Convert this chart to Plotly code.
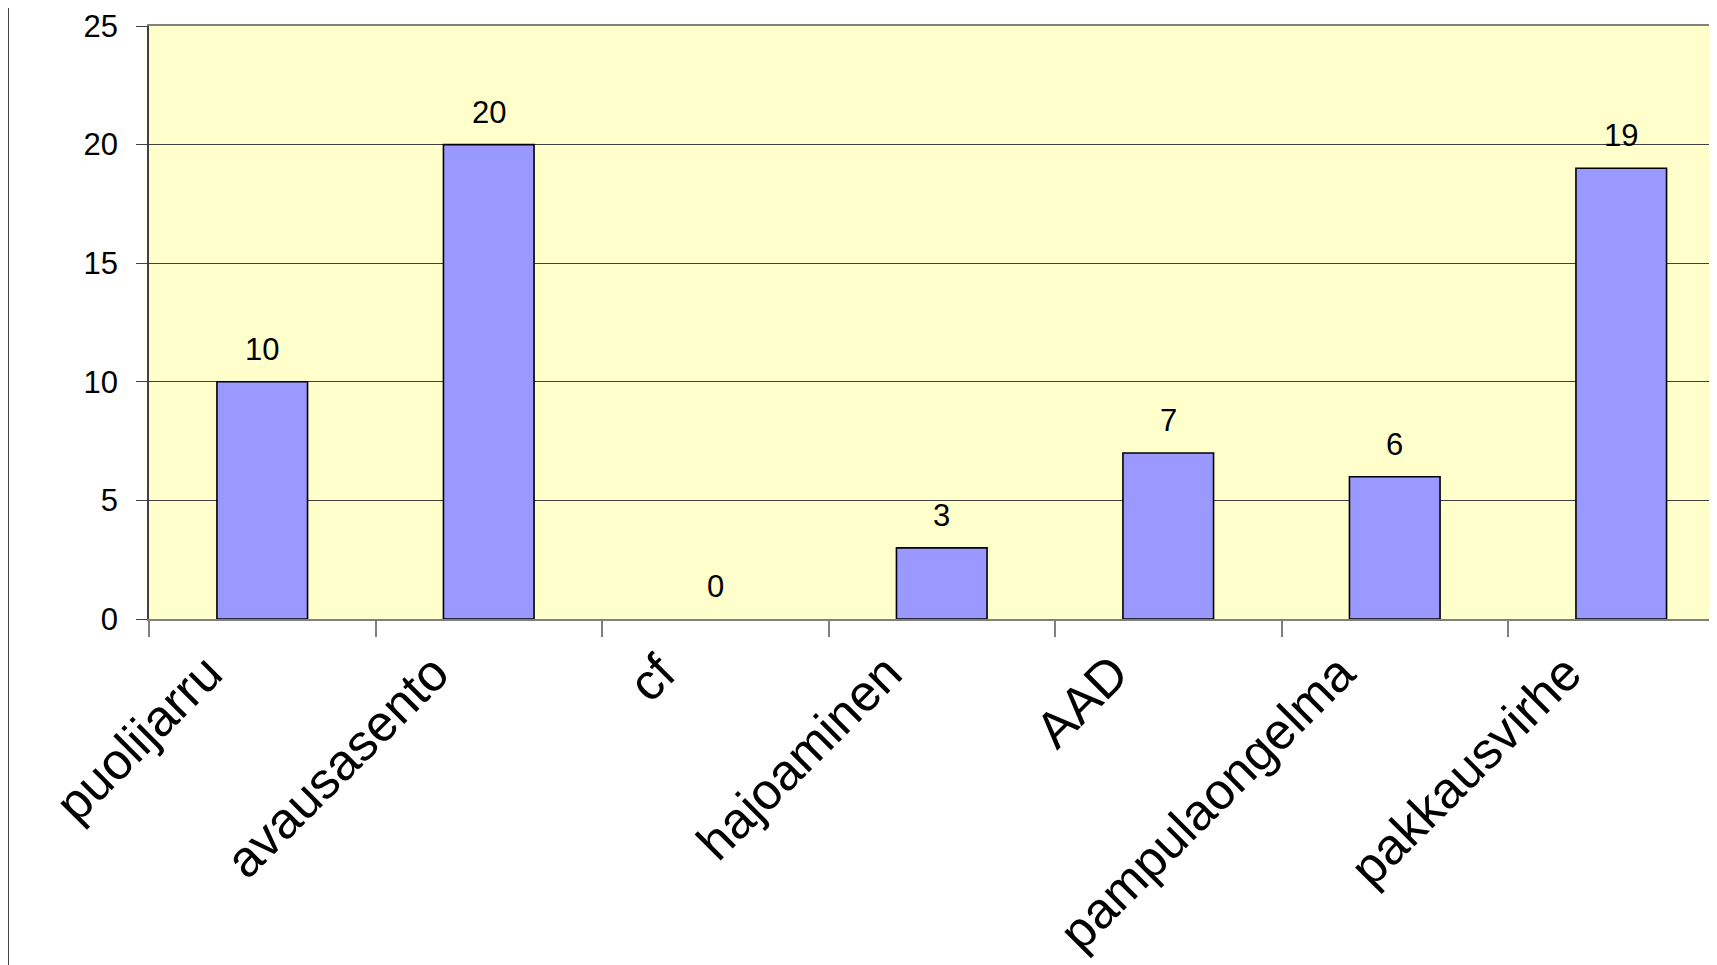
import plotly.graph_objects as go

categories = ["puolijarru", "avausasento", "cf", "hajoaminen", "AAD", "pampulaongelma", "pakkausvirhe"]
values = [10, 20, 0, 3, 7, 6, 19]
y_ticks = [0, 5, 10, 15, 20, 25]

FONT = "Liberation Sans, Arial, sans-serif"

fig = go.Figure()
fig.add_trace(go.Bar(
    x=categories, y=values, width=0.4,
    marker=dict(color="#9999FF",
                line=dict(color="#000000", width=[1.6 if v > 0 else 0 for v in values])),
    showlegend=False, hoverinfo="skip",
))

for c, v in zip(categories, values):
    fig.add_annotation(x=c, y=v, text=str(v), showarrow=False,
                       yanchor="bottom", yshift=13,
                       font=dict(family=FONT, size=31, color="#000000"))

# page body has an 8px margin; figure is sized so the plot area hits the page edge
W, H = 1709, 957
L, T, B = 141, 18, 346
plot_w = W - L
cat_w = 226.5
span = plot_w / cat_w
plot_h = H - T - B

fig.update_layout(
    width=W, height=H,
    margin=dict(l=L, r=0, t=T, b=B, pad=0),
    paper_bgcolor="white",
    plot_bgcolor="#FFFFCC",
    font=dict(family=FONT, color="#000000"),
    shapes=[dict(type="line", xref="paper", yref="paper",
                 x0=(0 - L) / plot_w, x1=(0 - L) / plot_w,
                 y0=-B / plot_h, y1=(H - B) / plot_h,
                 line=dict(color="#000000", width=1.5))],
)

fig.update_xaxes(
    type="category", range=[-0.5, -0.5 + span],
    showline=True, linecolor="#808080", linewidth=1.5, mirror=True,
    ticks="outside", tickson="boundaries", ticklen=16, tickcolor="#808080", tickwidth=1.5,
    tickangle=-45, tickfont=dict(family=FONT, size=51, color="#000000"),
    ticklabelshift=-55, ticklabelstandoff=2,
    showgrid=False, zeroline=False,
)
fig.update_yaxes(
    range=[0, 25], tickvals=y_ticks,
    showline=True, linecolor="#404040", linewidth=1.5,
    ticks="outside", ticklen=11, tickcolor="#404040", tickwidth=1.2,
    ticklabelstandoff=12,
    tickfont=dict(family=FONT, size=31, color="#000000"),
    showgrid=True, gridcolor="#404040", gridwidth=1,
    zeroline=False,
)

fig.write_html("out.html")
